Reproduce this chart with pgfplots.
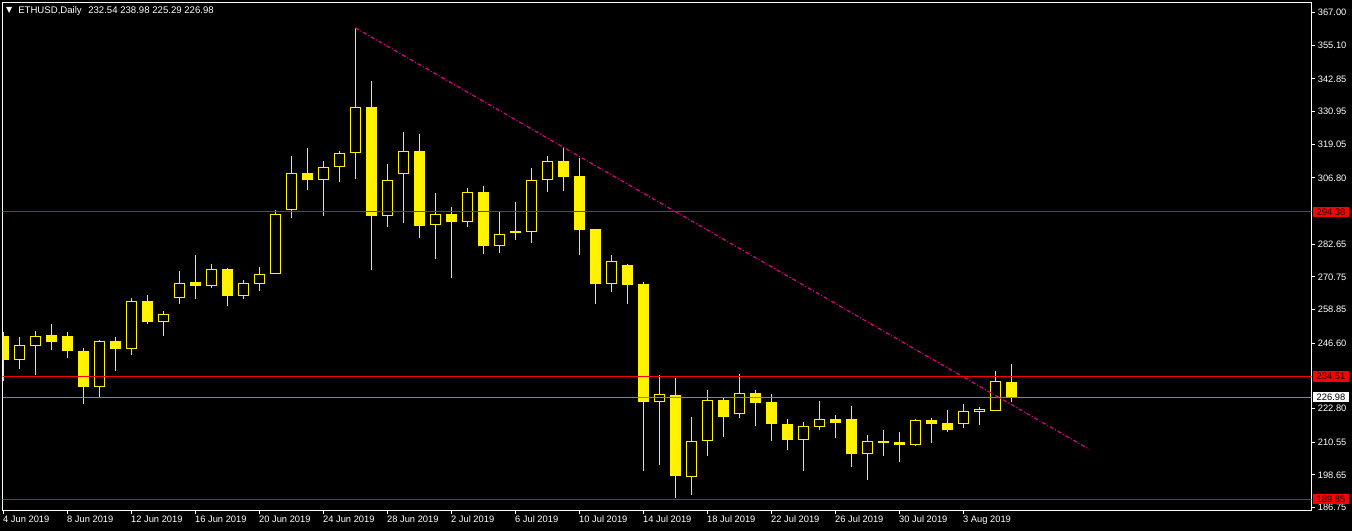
\documentclass[border=0pt]{standalone}
\usepackage{pgfplots}
\pgfplotsset{compat=1.18}
\usepackage{pgfplotstable}
\usepackage{fontspec}
\setmainfont{Liberation Sans}
\newfontfamily\dejavu{DejaVu Sans}
\definecolor{bidline}{RGB}{119,136,153}
\newcommand{\lbl}{\fontsize{7}{8}\selectfont}

% x = day number counted from 4 Jun 2019
% rising days (hollow candles)
\pgfplotstableread{
x o h l c
1 240.62 248.88 237.16 245.79
2 245.67 251.10 235.07 249.12
6 230.75 247.77 226.68 247.27
8 244.56 263.05 242.34 261.82
10 254.43 258.37 249.25 257.14
11 263.18 272.92 260.84 268.36
13 267.49 275.38 266.75 273.53
15 263.92 269.47 262.81 268.36
16 268.24 274.40 265.77 271.69
17 271.69 294.99 271.69 293.51
18 295.23 314.71 292.28 308.42
20 306.08 312.99 293.02 310.63
21 310.63 316.56 305.47 315.70
22 315.70 361.44 306.45 332.47
24 293.02 311.76 289.07 305.84
25 308.30 323.47 290.43 316.44
27 289.56 301.27 277.36 293.51
29 290.80 303.12 289.07 301.52
31 282.17 294.37 279.58 286.23
33 287.22 310.40 283.15 305.96
34 305.84 314.71 301.77 312.86
38 268.24 278.71 265.40 276.37
41 225.33 235.07 202.40 228.04
43 197.96 219.78 191.31 210.90
44 210.90 229.52 205.60 225.82
46 221.01 235.31 219.53 228.41
50 211.52 217.93 200.17 216.33
51 216.20 225.58 214.97 218.92
54 206.34 213.12 196.97 210.90
57 209.67 219.04 209.30 218.67
60 217.32 224.47 215.83 221.76
61 221.64 223.36 216.95 222.50
62 222.00 236.43 222.00 232.73
}\bull

% falling days (filled candles)
\pgfplotstableread{
x o h l c
0 249.12 250.73 232.85 240.62
3 249.49 253.56 244.19 247.15
4 249.12 250.73 241.23 243.94
5 243.94 244.81 224.59 230.75
7 247.27 248.88 236.54 244.56
9 261.95 264.17 253.56 254.43
12 268.85 278.71 262.69 267.37
14 273.53 273.90 260.22 263.92
19 308.42 317.67 302.51 306.08
23 332.47 341.96 273.41 293.02
26 316.44 322.60 285.00 289.44
28 293.51 296.22 270.45 290.80
30 301.52 303.86 279.21 282.17
32 287.34 298.07 284.26 286.85
35 312.86 317.92 302.14 307.19
36 307.44 313.97 278.83 287.96
37 288.08 288.08 260.96 268.24
39 275.02 275.38 260.96 267.86
40 268.11 268.85 199.93 225.33
42 227.79 233.96 190.32 198.32
45 225.82 226.56 212.63 219.90
47 228.41 229.52 216.57 224.96
48 225.08 228.16 211.15 217.07
49 217.19 219.04 207.82 211.52
52 218.92 220.52 212.26 217.68
53 219.04 223.73 201.66 206.34
55 210.90 214.97 205.60 210.29
56 210.66 214.23 203.51 209.67
58 218.67 219.41 210.41 217.32
59 217.44 222.25 214.23 215.10
63 232.54 238.98 225.29 226.98
}\bear

\pgfplotsset{
  candle/.style={only marks, mark options={draw=none, fill=none}, mark size=0pt,
    error bars/.cd, y dir=plus, y explicit, error mark=none,
    error bar style={#1}},
}

\begin{document}
\begin{tikzpicture}
\fill[black] (-2.025pt,-15.525pt) rectangle (1011.975pt,382.725pt);
\begin{axis}[
  scale only axis,
  width=981.45pt, height=380.7pt,
  xmin=-0.0375, xmax=81.75,
  ymin=185.77, ymax=370.57,
  clip mode=individual,
  axis line style={white, line width=0.75pt},
  tick align=outside,
  major tick length=2.5pt,
  tick style={white, line width=0.75pt},
  xtick pos=left, ytick pos=right,
  yticklabel pos=right,
  xtick={0,4,...,60},
  xticklabels={4 Jun 2019, 8 Jun 2019, 12 Jun 2019, 16 Jun 2019, 20 Jun 2019,
    24 Jun 2019, 28 Jun 2019, 2 Jul 2019, 6 Jul 2019, 10 Jul 2019, 14 Jul 2019,
    18 Jul 2019, 22 Jul 2019, 26 Jul 2019, 30 Jul 2019, 3 Aug 2019},
  ytick={367.00,355.10,342.85,330.95,319.05,306.80,282.65,270.75,258.85,246.60,222.80,210.55,198.65,186.75},
  ticklabel style={font=\lbl, text=white},
  x tick label style={anchor=north west, inner sep=0pt, xshift=-0.3pt, yshift=-1.5pt},
  y tick label style={anchor=west, inner sep=0pt, xshift=2.2pt},
  yticklabel style={/pgf/number format/.cd, fixed, fixed zerofill, precision=2, assume math mode=true},
]
% wicks
\addplot[candle={yellow, line width=0.75pt}]
  table[x=x, y=l, y error plus expr=\thisrow{h}-\thisrow{l}] {\bull};
\addplot[candle={yellow, line width=0.75pt}]
  table[x=x, y=l, y error plus expr=\thisrow{h}-\thisrow{l}] {\bear};
% bodies
\addplot[candle={yellow, line width=8.25pt}]
  table[x=x, y=c, y error plus expr={max(\thisrow{o}-\thisrow{c},0.3)}] {\bear};
\addplot[candle={yellow, line width=8.25pt}]
  table[x=x, y=o, y error plus expr={max(\thisrow{c}-\thisrow{o},0.3)}] {\bull};
\addplot[candle={black, line width=6.75pt}]
  table[x=x, y expr=\thisrow{o}+0.364, y error plus expr={max(\thisrow{c}-\thisrow{o}-0.728,0)}] {\bull};
% levels
\addplot[red, line width=0.75pt] coordinates {(-1,294.38) (90,294.38)};
\addplot[red, line width=1.3pt] coordinates {(-1,234.51) (90,234.51)};
\addplot[red, line width=0.75pt] coordinates {(-1,189.85) (90,189.85)};
\addplot[bidline, line width=0.75pt] coordinates {(-1,226.98) (90,226.98)};
% trend line
\addplot[magenta, line width=0.85pt, dash pattern=on 3pt off 1.5pt on 0.75pt off 1.5pt]
  coordinates {(22,361.44) (67.875,207.95)};
% price labels
\node[fill=red, text=black, font=\lbl, inner sep=0pt, minimum width=27pt, minimum height=7.9pt, anchor=west, xshift=1.05pt]
  at (axis cs:81.75,294.38) {294.38};
\node[fill=red, text=black, font=\lbl, inner sep=0pt, minimum width=27pt, minimum height=7.9pt, anchor=west, xshift=1.05pt]
  at (axis cs:81.75,234.51) {234.51};
\node[fill=red, text=black, font=\lbl, inner sep=0pt, minimum width=27pt, minimum height=7.9pt, anchor=west, xshift=1.05pt]
  at (axis cs:81.75,189.85) {189.85};
\node[fill=white, text=black, font=\lbl, inner sep=0pt, minimum width=27pt, minimum height=7.9pt, anchor=west, xshift=1.05pt]
  at (axis cs:81.75,226.98) {226.98};
\end{axis}
% header
\node[anchor=base west, inner sep=0pt, text=white, font=\dejavu\fontsize{6}{7}\selectfont] at (2.4pt,373pt) {▼};
\node[anchor=base west, inner sep=0pt, text=white, font=\fontsize{7.2}{8}\selectfont] at (11.5pt,372.3pt) {ETHUSD,Daily};
\node[anchor=base west, inner sep=0pt, text=white, font=\fontsize{7.2}{8}\selectfont] at (64pt,372.3pt) {232.54 238.98 225.29 226.98};
\pgfresetboundingbox
\path[use as bounding box] (-2.025pt,-15.525pt) rectangle (1011.975pt,382.725pt);
\end{tikzpicture}
\end{document}
